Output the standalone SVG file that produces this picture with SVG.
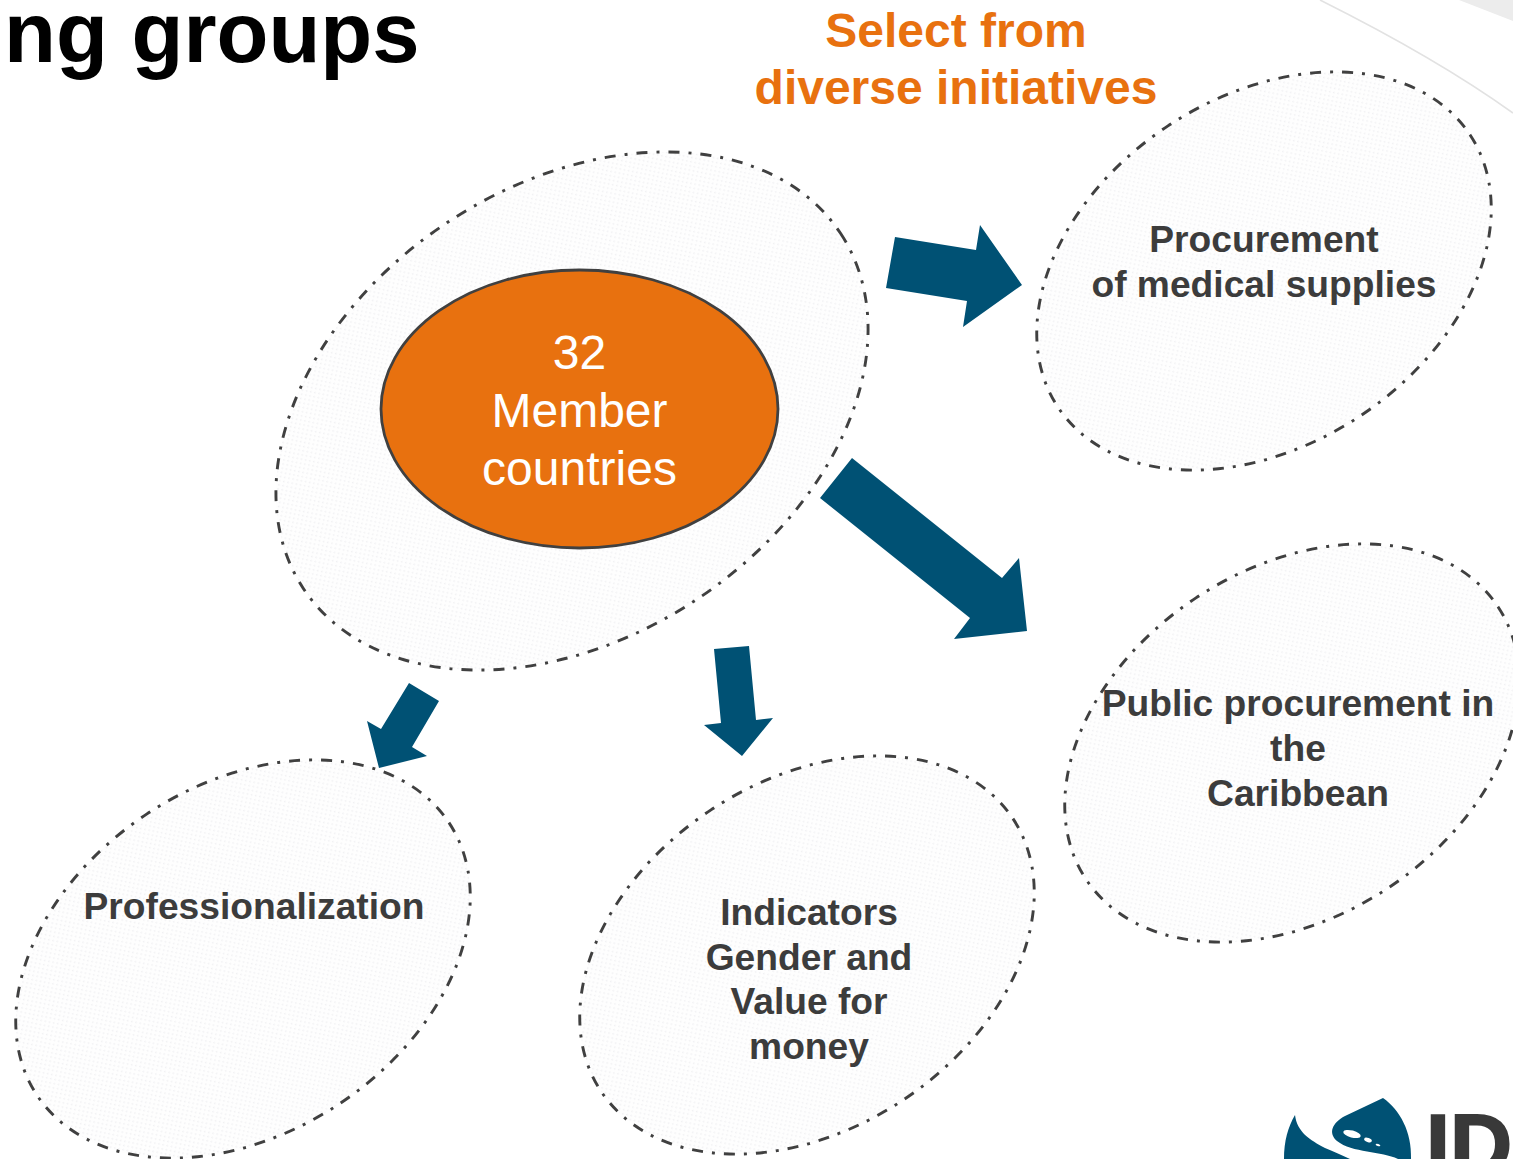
<svg xmlns="http://www.w3.org/2000/svg" width="1513" height="1159" viewBox="0 0 1513 1159">
<style>
.bubble{fill:url(#dots);stroke:#404040;stroke-width:2.9;stroke-dasharray:11 9 3 9}
.arrow{fill:#005174}
text{font-family:"Liberation Sans",Arial,sans-serif;text-anchor:middle}
.label{font-weight:bold;font-size:37.2px;fill:#3c3c3c}
.head{font-weight:bold;font-size:48px;fill:#e8710f}
.core{font-size:48px;fill:#fff}
</style>
<defs>
<pattern id="dots" width="6" height="6" patternUnits="userSpaceOnUse">
<rect width="6" height="6" fill="#fefefe"/>
<rect x="1" y="1" width="1.5" height="1.5" fill="#f1f1f3"/>
<rect x="4" y="4" width="1.5" height="1.5" fill="#f1f1f3"/>
</pattern>
</defs>
<rect width="1513" height="1159" fill="#fff"/>
<g id="corner">
<path d="M1459 0H1513V21Z" fill="#ececec"/>
<path d="M1320 0C1390 35 1460 75 1513 113" fill="none" stroke="#e2e2e2" stroke-width="1.6"/>
</g>
<text id="title" x="4" y="62" style="text-anchor:start;font-weight:bold;font-size:85px;fill:#000">ng groups</text>
<g id="heading" class="head">
<text x="956" y="47">Select from</text>
<text x="956" y="104">diverse initiatives</text>
</g>
<g id="member-group">
<ellipse class="bubble" cx="572" cy="411" rx="322" ry="226" transform="rotate(-33.5 572 411)"/>
</g>
<g id="member-core">
<ellipse cx="579.5" cy="409" rx="198.5" ry="139" fill="#e8710f" stroke="#404040" stroke-width="2.8"/>
<text class="core" x="579.5" y="369">32</text>
<text class="core" x="579.5" y="427">Member</text>
<text class="core" x="579.5" y="485">countries</text>
</g>
<g id="node-medical">
<ellipse class="bubble" cx="1264" cy="271" rx="247" ry="174" transform="rotate(-33.5 1264 271)"/>
<text class="label" x="1264" y="252">Procurement</text>
<text class="label" x="1264" y="297">of medical supplies</text>
</g>
<g id="node-caribbean">
<ellipse class="bubble" cx="1292" cy="743" rx="247" ry="174" transform="rotate(-33.5 1292 743)"/>
<text class="label" x="1298" y="716">Public procurement in</text>
<text class="label" x="1298" y="761">the</text>
<text class="label" x="1298" y="806">Caribbean</text>
</g>
<g id="node-professionalization">
<ellipse class="bubble" cx="243" cy="959" rx="247" ry="174" transform="rotate(-33.5 243 959)"/>
<text class="label" x="254" y="919">Professionalization</text>
</g>
<g id="node-indicators">
<ellipse class="bubble" cx="807" cy="955" rx="247" ry="174" transform="rotate(-33.5 807 955)"/>
<text class="label" x="809" y="925">Indicators</text>
<text class="label" x="809" y="970">Gender and</text>
<text class="label" x="809" y="1014">Value for</text>
<text class="label" x="809" y="1059">money</text>
</g>
<g id="connectors" class="arrow">
<polygon points="895,237 976,250 980,225 1022,285 963,327 967,301 886,288"/>
<polygon points="852,458 1002,578 1019,558 1027,631 954,639 970,618 820,498"/>
<polygon points="409,683 439,701 412,747 427,756 379,768 367,721 381,729"/>
<polygon points="714,649 749,646 756,720 773,718 742,756 704,725 721,723"/>
</g>
<g id="logo">
<path d="M1383 1098C1400 1110 1412 1132 1411 1159H1398C1382 1151 1352 1153 1337 1141C1328 1133 1332 1123 1345 1116Z" fill="#005174"/>
<path d="M1295 1115C1297 1132 1310 1140 1325 1148C1334 1152 1342 1155 1350 1159H1284C1284 1141 1288 1127 1295 1115Z" fill="#005174"/>
<ellipse cx="1352" cy="1134" rx="9" ry="3.5" transform="rotate(15 1352 1134)" fill="#fff"/>
<ellipse cx="1368" cy="1140" rx="4" ry="2" transform="rotate(20 1368 1140)" fill="#fff"/>
<ellipse cx="1378" cy="1145" rx="2.5" ry="1" transform="rotate(20 1378 1145)" fill="#fff"/>
<text x="1426" y="1174" style="text-anchor:start;font-weight:bold;font-size:86px;fill:#393939;stroke:#393939;stroke-width:2">ID</text>
</g>
</svg>
